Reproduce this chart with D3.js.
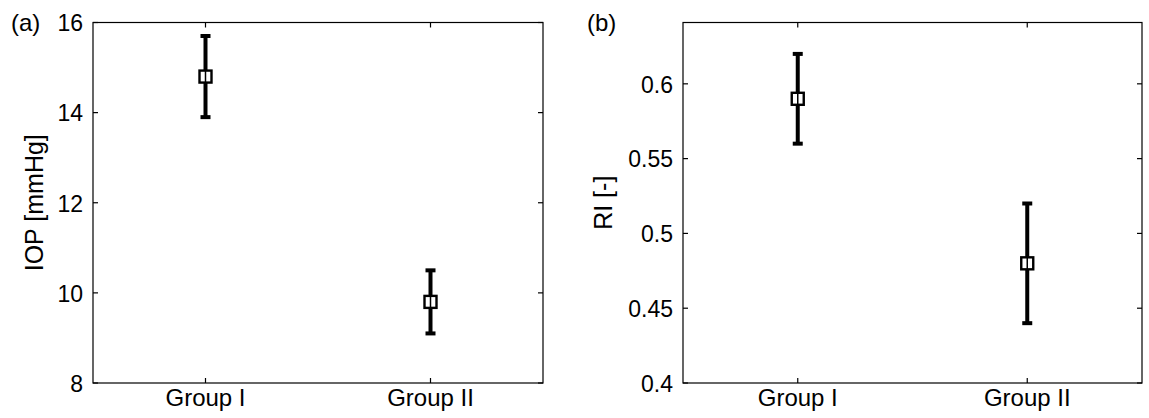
<!DOCTYPE html>
<html>
<head>
<meta charset="utf-8">
<script src="https://cdn.jsdelivr.net/npm/d3@7"></script>
<style>
  body { margin: 0; background: #fff; }
  text { font-family: "Liberation Sans", Arial, sans-serif; fill: #000; }
</style>
</head>
<body>
<div id="chart"></div>
<script>
// groups on the x axis
const groups = ['Group I', 'Group II'];

// panel (a): IOP
const iopMean = [14.8, 9.8];
const iopLow = [13.9, 9.1];
const iopHigh = [15.7, 10.5];
const iopTicks = [8, 10, 12, 14, 16];

// panel (b): RI
const riMean = [0.59, 0.48];
const riLow = [0.56, 0.44];
const riHigh = [0.62, 0.52];
const riTicks = [0.4, 0.45, 0.5, 0.55, 0.6];

const width = 1149;
const height = 418;

const svg = d3.select('#chart').append('svg')
    .attr('width', width)
    .attr('height', height);

// draw one panel
function drawPanel(opt) {
    const x = d3.scaleLinear().domain([0.5, 2.5]).range([opt.left, opt.right]);
    const y = d3.scaleLinear().domain(opt.domain).range([383, 22.5]);
    const g = svg.append('g');
    const tickLen = 5;

    // frame
    g.append('rect')
        .attr('x', opt.left).attr('y', 22.5)
        .attr('width', opt.right - opt.left).attr('height', 383 - 22.5)
        .attr('fill', 'none').attr('stroke', '#000').attr('stroke-width', 1.2);

    // y axis (left labels, ticks inside on both sides)
    const yAxis = d3.axisLeft(y).tickValues(opt.ticks).tickSize(0).tickPadding(10)
        .tickFormat(d3.format(opt.fmt));
    const ya = g.append('g').attr('transform', `translate(${opt.left},0)`).call(yAxis);
    ya.select('.domain').remove();
    ya.attr('font-size', null).attr('font-family', null);
    ya.selectAll('text').style('font-size', '23px').attr('dy', '0.36em');

    g.selectAll('.ytl').data(opt.ticks).enter().append('line')
        .attr('x1', opt.left).attr('x2', opt.left + tickLen)
        .attr('y1', d => y(d)).attr('y2', d => y(d))
        .attr('stroke', '#000').attr('stroke-width', 1.2);
    g.selectAll('.ytr').data(opt.ticks).enter().append('line')
        .attr('x1', opt.right).attr('x2', opt.right - tickLen)
        .attr('y1', d => y(d)).attr('y2', d => y(d))
        .attr('stroke', '#000').attr('stroke-width', 1.2);

    // x ticks at groups, top and bottom
    const idx = groups.map((d, i) => i + 1);
    g.selectAll('.xtb').data(idx).enter().append('line')
        .attr('x1', d => x(d)).attr('x2', d => x(d))
        .attr('y1', 383).attr('y2', 383 - tickLen)
        .attr('stroke', '#000').attr('stroke-width', 1.2);
    g.selectAll('.xtt').data(idx).enter().append('line')
        .attr('x1', d => x(d)).attr('x2', d => x(d))
        .attr('y1', 22.5).attr('y2', 22.5 + tickLen)
        .attr('stroke', '#000').attr('stroke-width', 1.2);
    g.selectAll('.xl').data(groups).enter().append('text')
        .attr('x', (d, i) => x(i + 1)).attr('y', 406)
        .attr('text-anchor', 'middle').style('font-size', '24px')
        .text(d => d);

    // error bars
    const pts = groups.map((d, i) => ({ i: i + 1, m: opt.mean[i], lo: opt.low[i], hi: opt.high[i] }));
    g.selectAll('.eb').data(pts).enter().append('line')
        .attr('x1', d => x(d.i)).attr('x2', d => x(d.i))
        .attr('y1', d => y(d.lo)).attr('y2', d => y(d.hi))
        .attr('stroke', '#000').attr('stroke-width', 4);
    ['lo', 'hi'].forEach(k => {
        g.selectAll('.cap' + k).data(pts).enter().append('line')
            .attr('x1', d => x(d.i) - 5).attr('x2', d => x(d.i) + 5)
            .attr('y1', d => y(d[k])).attr('y2', d => y(d[k]))
            .attr('stroke', '#000').attr('stroke-width', 4);
    });
    // square markers
    g.selectAll('.mk').data(pts).enter().append('rect')
        .attr('x', d => x(d.i) - 6).attr('y', d => y(d.m) - 6)
        .attr('width', 12).attr('height', 12)
        .attr('fill', '#fff').attr('stroke', '#000').attr('stroke-width', 2.4);
    g.selectAll('.mkl').data(pts).enter().append('line')
        .attr('x1', d => x(d.i)).attr('x2', d => x(d.i))
        .attr('y1', d => y(d.m) - 6).attr('y2', d => y(d.m) + 6)
        .attr('stroke', '#000').attr('stroke-width', 1.5);

    // y label
    g.append('text')
        .attr('transform', `translate(${opt.labelX},${(383 + 22.5) / 2}) rotate(-90)`)
        .attr('text-anchor', 'middle').style('font-size', '25px')
        .text(opt.label);

    // panel letter
    g.append('text')
        .attr('x', opt.letterX).attr('y', 31)
        .style('font-size', '24px')
        .text(opt.letter);
}

drawPanel({
    left: 93, right: 543, domain: [8, 16], ticks: iopTicks, fmt: 'd',
    mean: iopMean, low: iopLow, high: iopHigh,
    label: 'IOP [mmHg]', labelX: 43, letter: '(a)', letterX: 11
});

drawPanel({
    left: 683, right: 1142, domain: [0.4, 0.641], ticks: riTicks, fmt: '',
    mean: riMean, low: riLow, high: riHigh,
    label: 'RI [-]', labelX: 612, letter: '(b)', letterX: 587
});
</script>
</body>
</html>
